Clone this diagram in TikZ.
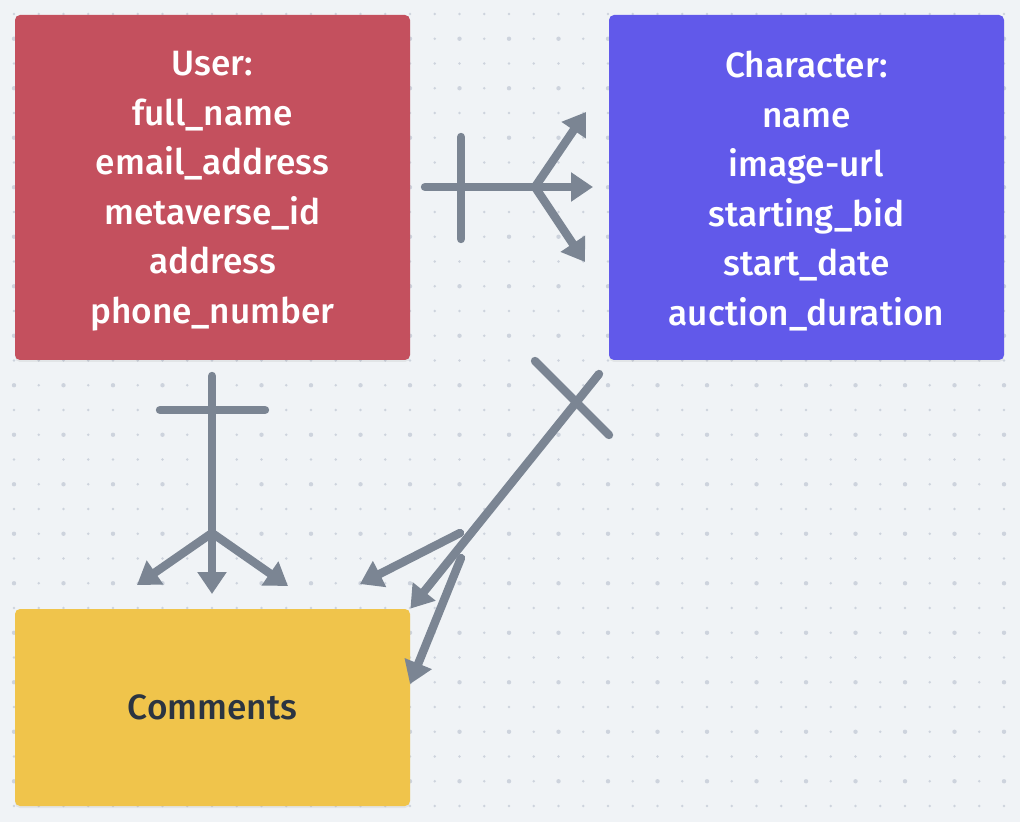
\documentclass[tikz,border=0pt]{standalone}
\usepackage{fontspec}
\setmainfont{Fira Sans}[UprightFont=* Medium]
\usetikzlibrary{arrows.meta,shadows}
\definecolor{boardbg}{HTML}{F0F3F6}
\definecolor{boarddot}{HTML}{CDD3DD}
\definecolor{userred}{HTML}{C4505E}
\definecolor{charblue}{HTML}{6159EA}
\definecolor{commyellow}{HTML}{F0C44B}
\definecolor{linkgray}{HTML}{7B8593}
\definecolor{darktext}{HTML}{2B3441}

\begin{document}
\begin{tikzpicture}[x=0.5pt, y=-0.5pt,
    entity/.style={rounded corners=2.5pt, minimum width=197.5pt, minimum height=172.5pt,
        drop shadow={opacity=0.12, shadow xshift=0pt, shadow yshift=-1pt}},
    fields/.style={align=center, text=white, font=\fontsize{17.6}{24.75}\selectfont},
    link/.style={draw=linkgray, line width=4.2pt, line cap=round},
    many/.style={link, -{Triangle[length=11pt, width=14pt]}}]
        \useasboundingbox (0,0) rectangle (1020,822);
        \fill[boardbg] (0,0) rectangle (1020,822);

        % dotted board
        \foreach \i in {0,...,40}
            \foreach \j in {0,...,32}
                \fill[boarddot] ({14+24.75*\i},{14+24.75*\j}) circle (0.7pt);
        \foreach \i in {0,2,...,40}
            \foreach \j in {1,3,...,31}
                \fill[boarddot] ({14+24.75*\i},{14+24.75*\j}) circle (1.1pt);

        % entities
        \node[entity, fill=userred] (user) at (212.5,187.5) {};
        \node[fields] (user-fields) at ([yshift=-1.75pt]user.center)
            {User:\\full\_name\\email\_address\\metaverse\_id\\address\\phone\_number};
        \node[entity, fill=charblue] (character) at (806.5,187.5) {};
        \node[fields] (character-fields) at ([yshift=-1.75pt]character.center)
            {Character:\\name\\image-url\\starting\_bid\\start\_date\\auction\_duration};
        \node[entity, fill=commyellow, minimum height=98.5pt] (comments) at (212.5,707.5) {};
        \node[fields, text=darktext] (comments-fields) at (comments.center) {Comments};

        % user -> character
        \coordinate (uc-one) at (425,187);
        \coordinate (uc-fork) at (535,187);
        \coordinate (uc-bartop) at (461,137);
        \coordinate (uc-barbot) at (461,239);
        \coordinate (uc-up) at (586,112);
        \coordinate (uc-mid) at (593,187);
        \coordinate (uc-down) at (585,262);
        \draw[link] (uc-one) -- (uc-fork);
        \draw[link] (uc-bartop) -- (uc-barbot);
        \draw[many] (uc-fork) -- (uc-up);
        \draw[many] (uc-fork) -- (uc-mid);
        \draw[many] (uc-fork) -- (uc-down);

        % user -> comments
        \coordinate (ucm-one) at (212,376);
        \coordinate (ucm-fork) at (212,533);
        \coordinate (ucm-barl) at (160,410);
        \coordinate (ucm-barr) at (265,410);
        \coordinate (ucm-left) at (137,585);
        \coordinate (ucm-mid) at (212,594);
        \coordinate (ucm-right) at (288,586);
        \draw[link] (ucm-one) -- (ucm-fork);
        \draw[link] (ucm-barl) -- (ucm-barr);
        \draw[many] (ucm-fork) -- (ucm-left);
        \draw[many] (ucm-fork) -- (ucm-mid);
        \draw[many] (ucm-fork) -- (ucm-right);

        % character -> comments
        \coordinate (ccm-one) at (599,374);
        \coordinate (ccm-bara) at (535,361);
        \coordinate (ccm-barb) at (609,435);
        \coordinate (ccm-forka) at (460,533);
        \coordinate (ccm-forkb) at (461,558);
        \coordinate (ccm-left) at (360,584);
        \coordinate (ccm-down) at (410,684);
        \draw[link] (ccm-bara) -- (ccm-barb);
        \draw[many] (ccm-one) -- (comments.north east);
        \draw[many] (ccm-forka) -- (ccm-left);
        \draw[many] (ccm-forkb) -- (ccm-down);
    \end{tikzpicture}
\end{document}
